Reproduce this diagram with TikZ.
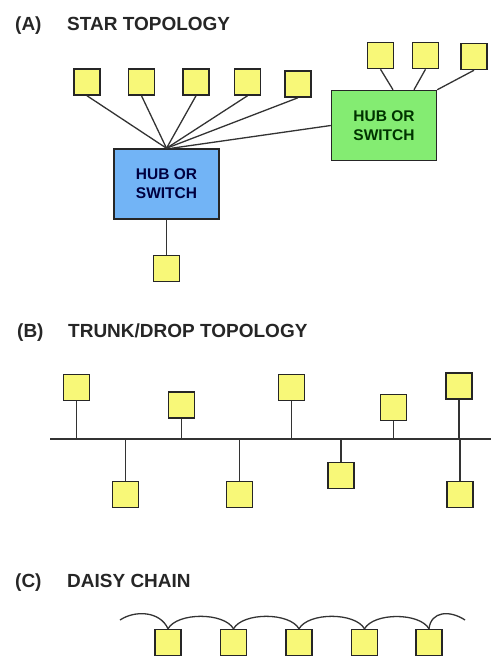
\documentclass[tikz,border=0pt]{standalone}
\usepackage{fontspec}
\setmainfont{Liberation Sans}
\usepackage{xcolor}
\usepackage{tikz}
\usetikzlibrary{positioning,calc}

\definecolor{nodeyellow}{HTML}{F8F878}
\definecolor{hubblue}{HTML}{72B4F6}
\definecolor{hubgreen}{HTML}{84EC72}

\begin{document}
\begin{tikzpicture}[x=1pt,y=1pt,
  station/.style={draw=black!85,fill=nodeyellow,minimum size=26pt,inner sep=0pt,line width=1.5pt},
  hub/.style={draw=black!85,line width=1.5pt,minimum width=105pt,minimum height=70pt,align=center,font=\fontsize{15.5}{19}\selectfont\bfseries},
  heading/.style={anchor=base west,inner sep=0pt,font=\fontsize{19}{22}\selectfont\bfseries,text=black!85},
  wire/.style={line width=1.3pt,black!80}]
\useasboundingbox (0,0) rectangle (491,-657);

% (A) star topology
\node[heading] (la) at (15,-30) {(A)};
\node[heading] (ta) at (67,-30) {STAR TOPOLOGY};
\node[hub,fill=hubblue,text=blue!25!black] (h1) at (166.5,-184) {HUB OR\\SWITCH};
\node[hub,fill=hubgreen,text=green!20!black] (h2) at (384,-125.5) {HUB OR\\SWITCH};
\node[station] (a1) at (87,-82) {};
\node[station,right=27pt of a1] (a2) {};
\node[station,right=27pt of a2] (a3) {};
\node[station,right=24pt of a3] (a4) {};
\node[station,right=23pt of a4,yshift=-2pt] (a5) {};
\node[station,below=35pt of h1] (a6) {};
\node[station] (r1) at (380.5,-55.5) {};
\node[station,right=17.5pt of r1] (r2) {};
\node[station,right=21pt of r2,yshift=-1pt] (r3) {};

\foreach \i in {1,...,5}
  \draw[wire] (a\i.south) -- (h1.north);
\draw[wire] (h2.west) -- ($(h1.north)+(5,0)$);
\draw[wire] (h1.south) -- (a6);
\draw[wire] (r1.south) -- ($(h2.north)+(9,0)$);
\draw[wire] (r2.south) -- ($(h2.north)+(30,0)$);
\draw[wire] (r3.south) -- (h2.north east);

% (B) trunk/drop topology
\node[heading] (lb) at (17,-337) {(B)};
\node[heading] (tb) at (68,-337) {TRUNK/DROP TOPOLOGY};
\coordinate (trunkl) at (50,-439);
\coordinate (trunkr) at (491,-439);
\draw[wire,line width=1.5pt] (trunkl) -- (trunkr);
\node[station] (b1) at (76.5,-387.5) {};
\node[station] (b2) at (181.5,-405) {};
\node[station] (b3) at (291.5,-387.5) {};
\node[station] (b4) at (393.5,-407.5) {};
\node[station] (b5) at (459,-386) {};
\node[station] (c1) at (125.5,-494.5) {};
\node[station] (c2) at (239.5,-494.5) {};
\node[station] (c3) at (341,-475.5) {};
\node[station] (c4) at (460,-494.5) {};

\foreach \i in {1,...,5}
  \draw[wire] (b\i.south) -- (b\i |- trunkl);
\foreach \i in {1,...,4}
  \draw[wire] (c\i.north) -- (c\i |- trunkl);

% (C) daisy chain
\node[heading] (lc) at (15,-587) {(C)};
\node[heading] (tc) at (67,-587) {DAISY CHAIN};
\node[station] (d1) at (168,-642.5) {};
\node[station,right=38pt of d1] (d2) {};
\node[station,right=38pt of d2] (d3) {};
\node[station,right=38pt of d3] (d4) {};
\node[station,right=37pt of d4] (d5) {};
\coordinate (chainl) at (120,-620);
\coordinate (chainr) at (465,-620);

\draw[wire] (chainl) .. controls (135,-610) and (160,-611) .. (d1.north);
\foreach \i/\j in {1/2,2/3,3/4,4/5}
  \draw[wire] (d\i.north) to[out=60,in=120,looseness=0.75] (d\j.north);
\draw[wire] (d5.north) .. controls (431,-611) and (450,-610) .. (chainr);
\end{tikzpicture}
\end{document}
